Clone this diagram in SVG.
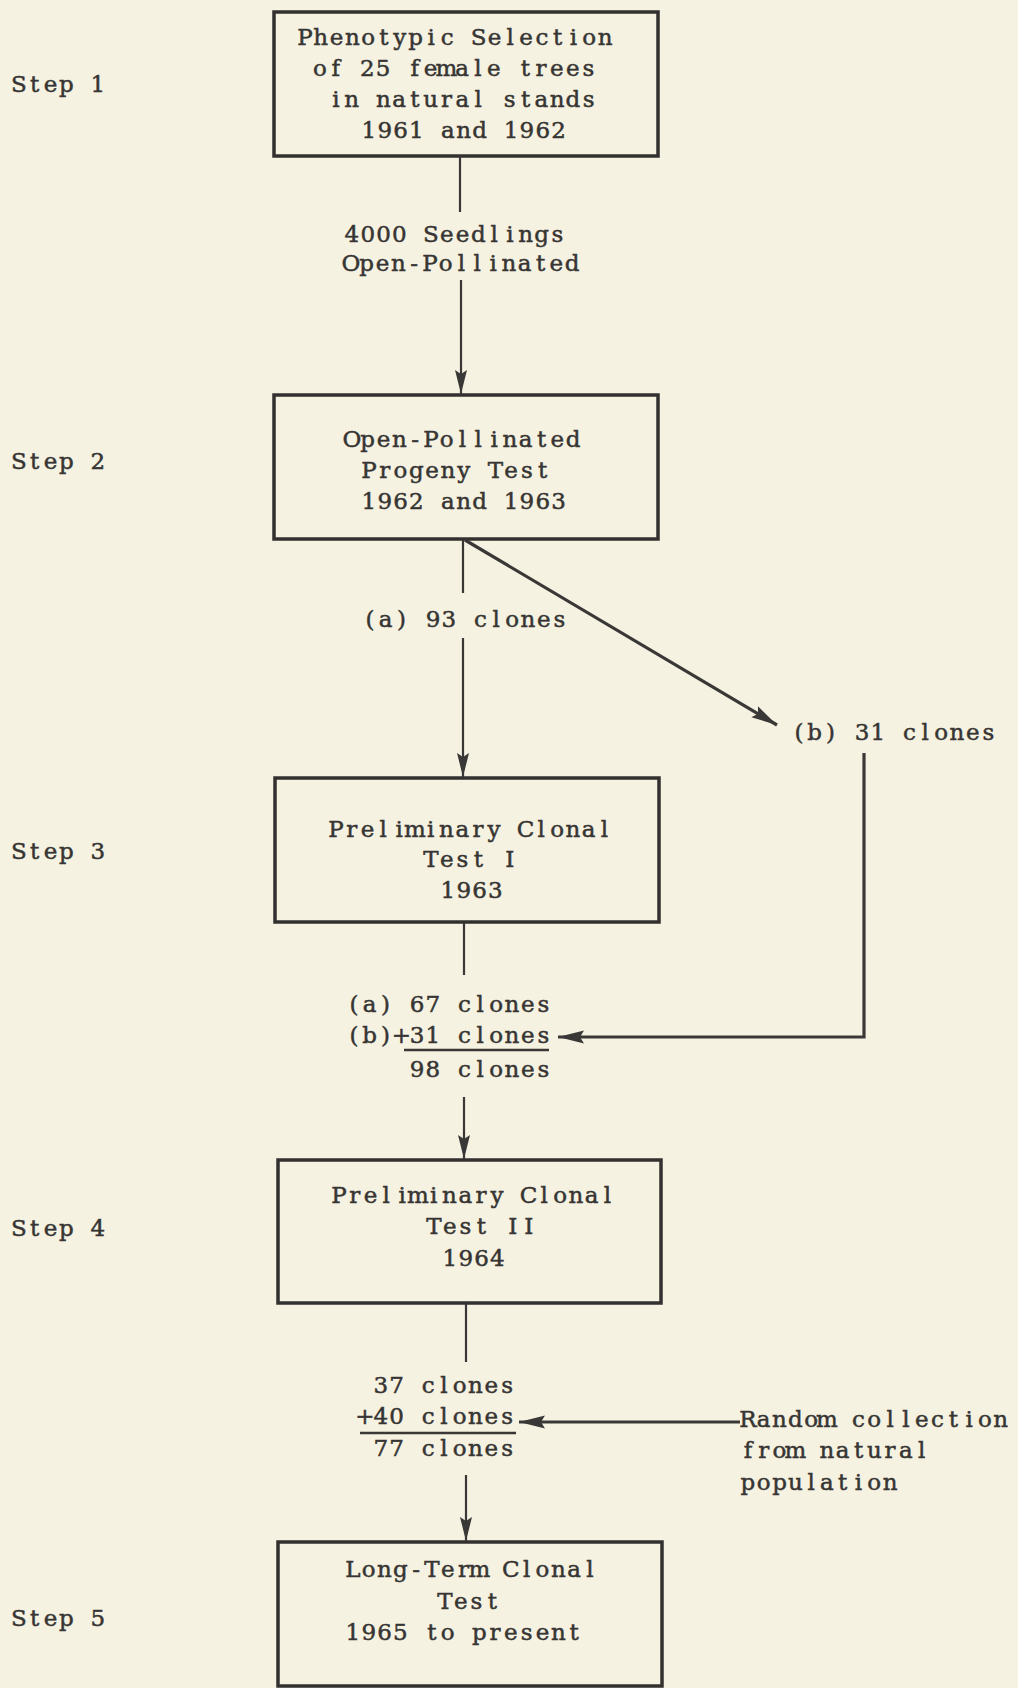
<svg xmlns="http://www.w3.org/2000/svg" width="1018" height="1688" viewBox="0 0 1018 1688">
<defs>
<style>
text{font-family:"DejaVu Serif","Liberation Serif",serif;font-size:23px;fill:#363533;stroke:#363533;stroke-width:0.5px;text-anchor:middle}
.box{fill:none;stroke:#333130;stroke-width:3.5}
.ln{fill:none;stroke:#3a3836;stroke-width:2.2}
.thk{fill:none;stroke:#3a3836;stroke-width:3.2}
.ul{stroke:#3a3836;stroke-width:2.5}
</style>
<marker id="ah" markerUnits="userSpaceOnUse" markerWidth="26" markerHeight="14" refX="24" refY="7" orient="auto">
<path d="M0,1 L24,7 L0,13 L4,7 z" fill="#3a3836"/>
</marker>
<marker id="ahb" markerUnits="userSpaceOnUse" markerWidth="28" markerHeight="16" refX="26" refY="8" orient="auto">
<path d="M0,1.5 L26,8 L0,14.5 L4,8 z" fill="#3a3836"/>
</marker>
</defs>
<rect width="1018" height="1688" fill="#f6f2e2"/>

<g id="step-labels">
<text x="18.9 34.7 50.5 66.3 82.1 97.9" y="92">Step 1</text>
<text x="18.9 34.7 50.5 66.3 82.1 97.9" y="469">Step 2</text>
<text x="18.9 34.7 50.5 66.3 82.1 97.9" y="859">Step 3</text>
<text x="18.9 34.7 50.5 66.3 82.1 97.9" y="1236">Step 4</text>
<text x="18.9 34.7 50.5 66.3 82.1 97.9" y="1626">Step 5</text>
</g>

<g id="node1">
<rect class="box" x="274" y="12" width="384" height="144"/>
<text x="304.9 320.7 336.5 352.3 368.1 383.9 399.7 415.5 431.3 447.1 462.9 478.7 494.5 510.3 526.1 541.9 557.7 573.5 589.3 605.1" y="45">Phenotypic Selection</text>
<text x="319.9 335.7 351.5 367.3 383.1 398.9 414.7 430.5 446.3 462.1 477.9 493.7 509.5 525.3 541.1 556.9 572.7 588.5" y="76">of 25 female trees</text>
<text x="335.9 351.7 367.5 383.3 399.1 414.9 430.7 446.5 462.3 478.1 493.9 509.7 525.5 541.3 557.1 572.9 588.7" y="107">in natural stands</text>
<text x="368.9 384.7 400.5 416.3 432.1 447.9 463.7 479.5 495.3 511.1 526.9 542.7 558.5" y="138">1961 and 1962</text>
</g>

<g id="node2">
<rect class="box" x="274" y="395" width="384" height="144"/>
<text x="351.9 367.7 383.5 399.3 415.1 430.9 446.7 462.5 478.3 494.1 509.9 525.7 541.5 557.3 573.1" y="447">Open-Pollinated</text>
<text x="368.9 384.7 400.5 416.3 432.1 447.9 463.7 479.5 495.3 511.1 526.9 542.7" y="478">Progeny Test</text>
<text x="368.9 384.7 400.5 416.3 432.1 447.9 463.7 479.5 495.3 511.1 526.9 542.7 558.5" y="509">1962 and 1963</text>
</g>

<g id="node3">
<rect class="box" x="275" y="778" width="384" height="144"/>
<text x="335.9 351.7 367.5 383.3 399.1 414.9 430.7 446.5 462.3 478.1 493.9 509.7 525.5 541.3 557.1 572.9 588.7 604.5" y="837">Preliminary Clonal</text>
<text x="430.9 446.7 462.5 478.3 494.1 509.9" y="867">Test I</text>
<text x="447.9 463.7 479.5 495.3" y="898">1963</text>
</g>

<g id="node4">
<rect class="box" x="278" y="1160" width="383" height="143"/>
<text x="338.9 354.7 370.5 386.3 402.1 417.9 433.7 449.5 465.3 481.1 496.9 512.7 528.5 544.3 560.1 575.9 591.7 607.5" y="1203">Preliminary Clonal</text>
<text x="433.9 449.7 465.5 481.3 497.1 512.9 528.7" y="1234">Test II</text>
<text x="449.9 465.7 481.5 497.3" y="1266">1964</text>
</g>

<g id="node5">
<rect class="box" x="278" y="1542" width="384" height="144"/>
<text x="352.9 368.7 384.5 400.3 416.1 431.9 447.7 463.5 479.3 495.1 510.9 526.7 542.5 558.3 574.1 589.9" y="1577">Long-Term Clonal</text>
<text x="444.9 460.7 476.5 492.3" y="1609">Test</text>
<text x="352.9 368.7 384.5 400.3 416.1 431.9 447.7 463.5 479.3 495.1 510.9 526.7 542.5 558.3 574.1" y="1640">1965 to present</text>
</g>

<g id="labels">
<text x="351.9 367.7 383.5 399.3 415.1 430.9 446.7 462.5 478.3 494.1 509.9 525.7 541.5 557.3" y="242">4000 Seedlings</text>
<text x="350.9 366.7 382.5 398.3 414.1 429.9 445.7 461.5 477.3 493.1 508.9 524.7 540.5 556.3 572.1" y="271">Open-Pollinated</text>
<text x="369.9 385.7 401.5 417.3 433.1 448.9 464.7 480.5 496.3 512.1 527.9 543.7 559.5" y="627">(a) 93 clones</text>
<text x="798.9 814.7 830.5 846.3 862.1 877.9 893.7 909.5 925.3 941.1 956.9 972.7 988.5" y="740">(b) 31 clones</text>
<text x="353.9 369.7 385.5 401.3 417.1 432.9 448.7 464.5 480.3 496.1 511.9 527.7 543.5" y="1012">(a) 67 clones</text>
<text x="353.9 369.7 385.5 401.3 417.1 432.9 448.7 464.5 480.3 496.1 511.9 527.7 543.5" y="1043">(b)+31 clones</text>
<line class="ul" x1="404" y1="1050" x2="549" y2="1050"/>
<text x="417.1 432.9 448.7 464.5 480.3 496.1 511.9 527.7 543.5" y="1077">98 clones</text>
<text x="380.7 396.5 412.3 428.1 443.9 459.7 475.5 491.3 507.1" y="1393">37 clones</text>
<text x="364.9 380.7 396.5 412.3 428.1 443.9 459.7 475.5 491.3 507.1" y="1424">+40 clones</text>
<line class="ul" x1="360" y1="1433" x2="516" y2="1433"/>
<text x="380.7 396.5 412.3 428.1 443.9 459.7 475.5 491.3 507.1" y="1456">77 clones</text>
<text x="747.9 763.7 779.5 795.3 811.1 826.9 842.7 858.5 874.3 890.1 905.9 921.7 937.5 953.3 969.1 984.9 1000.7" y="1427">Random collection</text>
<text x="747.9 763.7 779.5 795.3 811.1 826.9 842.7 858.5 874.3 890.1 905.9 921.7" y="1458">from natural</text>
<text x="747.9 763.7 779.5 795.3 811.1 826.9 842.7 858.5 874.3 890.1" y="1490">population</text>
</g>

<g id="connectors">
<line class="ln" x1="460" y1="156" x2="460" y2="212"/>
<line class="ln" x1="461" y1="280" x2="461" y2="394" marker-end="url(#ah)"/>
<line class="ln" x1="463" y1="540" x2="463" y2="593"/>
<line class="ln" x1="463" y1="638" x2="463" y2="777" marker-end="url(#ah)"/>
<line class="thk" x1="465" y1="540" x2="777" y2="725" marker-end="url(#ahb)"/>
<polyline class="thk" points="864,753 864,1037 558,1037" marker-end="url(#ahb)"/>
<line class="ln" x1="464" y1="923" x2="464" y2="975"/>
<line class="ln" x1="464" y1="1097" x2="464" y2="1159" marker-end="url(#ah)"/>
<line class="ln" x1="466" y1="1303" x2="466" y2="1362"/>
<line class="ln" x1="466" y1="1475" x2="466" y2="1541" marker-end="url(#ah)"/>
<line class="thk" x1="740" y1="1422" x2="519" y2="1422" marker-end="url(#ahb)"/>
</g>
</svg>
